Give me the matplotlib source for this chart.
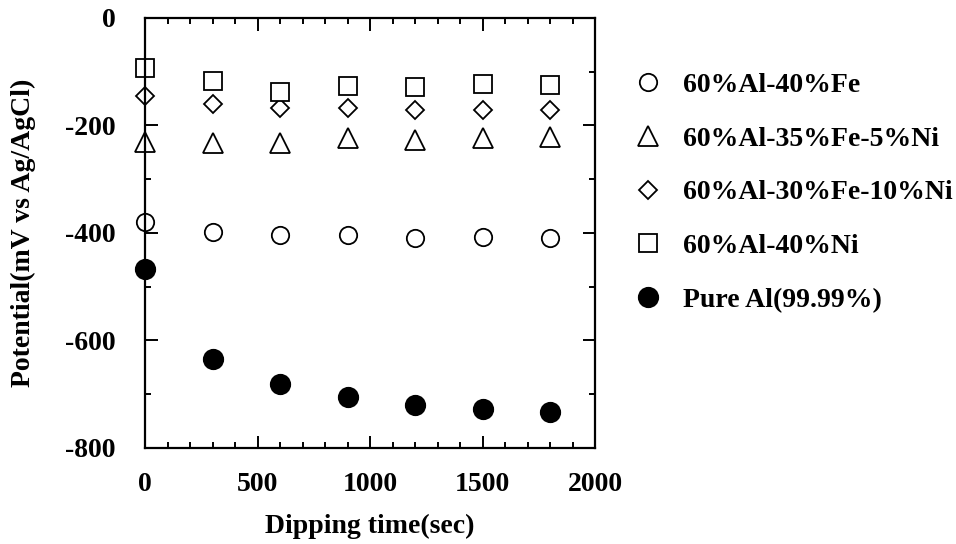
import matplotlib
matplotlib.use("Agg")
import matplotlib.pyplot as plt
from matplotlib.ticker import MultipleLocator

time_sec = [0, 300, 600, 900, 1200, 1500, 1800]
al40fe = [-380, -398, -403, -404, -409, -407, -409]
al35fe5ni = [-230, -233, -233, -223, -227, -223, -221]
al30fe10ni = [-146, -160, -168, -167, -171, -171, -172]
al40ni = [-93, -118, -137, -126, -128, -123, -124]
pure_al = [-467, -634, -681, -705, -720, -727, -733]

labels = ["60%Al-40%Fe", "60%Al-35%Fe-5%Ni", "60%Al-30%Fe-10%Ni",
          "60%Al-40%Ni", "Pure Al(99.99%)"]

plt.rcParams['font.family'] = ['Liberation Serif', 'DejaVu Serif']
plt.rcParams['font.weight'] = 'bold'
plt.rcParams['axes.unicode_minus'] = False

fig = plt.figure(figsize=(9.56, 5.44), dpi=100)
ax = fig.add_axes([0.1517, 0.1765, 0.4707, 0.7905])

ms_kw = dict(linestyle='none', markeredgecolor='black', markeredgewidth=1.3, clip_on=False)
h1, = ax.plot(time_sec, al40fe, marker='o', markersize=12.5, markerfacecolor='white', **ms_kw)
h2, = ax.plot(time_sec, al35fe5ni, marker='^', markersize=14, markerfacecolor='white', **ms_kw)
h3, = ax.plot(time_sec, al30fe10ni, marker='D', markersize=9.5, markerfacecolor='white', **ms_kw)
h4, = ax.plot(time_sec, al40ni, marker='s', markersize=13.5, markerfacecolor='white', **ms_kw)
h5, = ax.plot(time_sec, pure_al, marker='o', markersize=14, markerfacecolor='black', **ms_kw)

ax.set_xlim(0, 2000)
ax.set_ylim(-800, 0)
ax.xaxis.set_major_locator(MultipleLocator(500))
ax.xaxis.set_minor_locator(MultipleLocator(100))
ax.yaxis.set_major_locator(MultipleLocator(200))
ax.yaxis.set_minor_locator(MultipleLocator(100))

for s in ax.spines.values():
    s.set_linewidth(1.6)
ax.tick_params(which='both', direction='in', top=True, right=True, width=1.4)
ax.tick_params(which='major', length=9, labelsize=20)
ax.tick_params(axis='y', which='major', pad=21)
ax.tick_params(axis='x', which='major', pad=17)
ax.tick_params(which='minor', length=4.5)
for lab in ax.get_xticklabels() + ax.get_yticklabels():
    lab.set_fontweight('bold')

ax.set_xlabel("Dipping time(sec)", fontsize=20, fontweight='bold')
ax.set_ylabel("Potential(mV vs Ag/AgCl)", fontsize=20, fontweight='bold')
ax.xaxis.set_label_coords(0.5, -0.153)
ax.yaxis.set_label_coords(-0.242, 0.5)

fig.legend([h1, h2, h3, h4, h5], labels, loc='center left',
           bbox_to_anchor=(0.638, 0.646), frameon=False,
           prop={'size': 20, 'weight': 'bold'}, labelspacing=1.02,
           handlelength=0.96, handletextpad=0.78, numpoints=1)

fig.savefig("out.png", dpi=100)
